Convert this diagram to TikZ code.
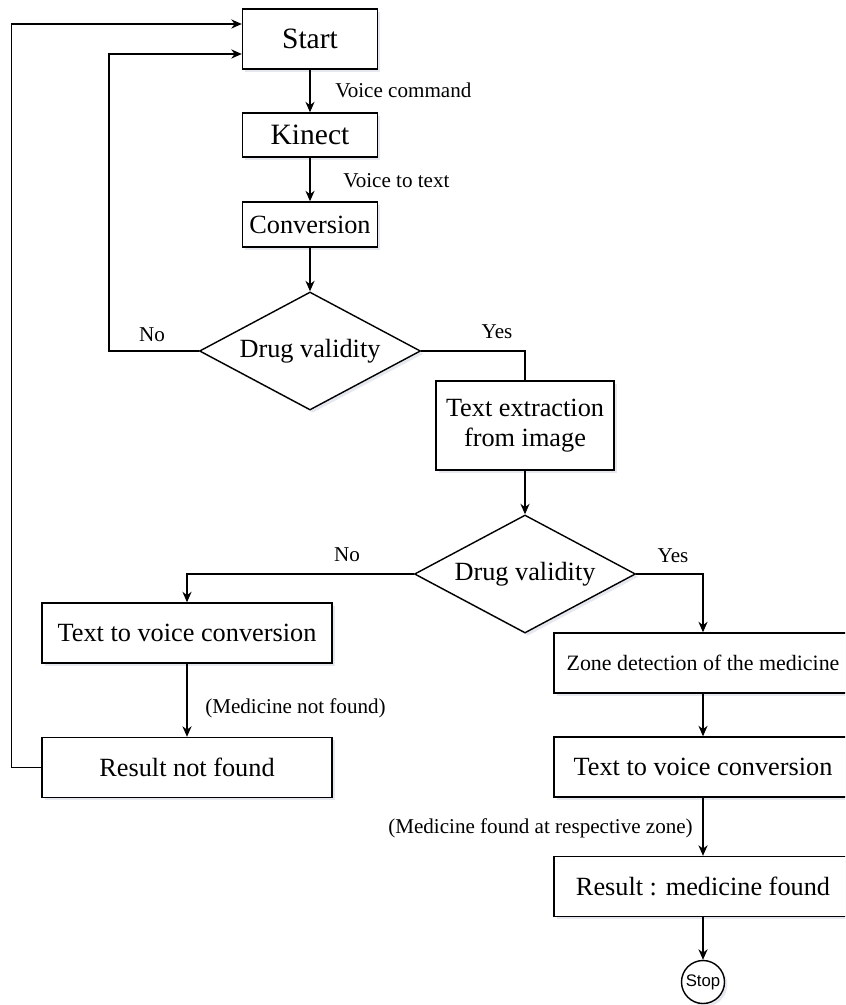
\documentclass[tikz,border=0pt]{standalone}
\usepackage{fontspec}
\setmainfont{Liberation Serif}
\newfontfamily\stopfont{Liberation Sans}
\usepackage{tikz}
\usetikzlibrary{shapes.geometric, arrows.meta, shadows}
\definecolor{shadowgray}{HTML}{CDD2DF}

\begin{document}
\begin{tikzpicture}[
    block/.style={rectangle, draw, fill=white, line width=1pt, minimum width=3.375cm, inner sep=2pt, align=center, font=\fontsize{18.7}{21.3}\selectfont, drop shadow={shadow xshift=2pt, shadow yshift=-2pt, fill=shadowgray}},
    wideblock/.style={block, minimum width=7.25cm, minimum height=1.5cm},
    decision/.style={diamond, draw, fill=white, line width=1pt, aspect=1.9, inner sep=0pt, minimum width=5.525cm, minimum height=2.95cm, font=\fontsize{18.7}{21.3}\selectfont, drop shadow={shadow xshift=2pt, shadow yshift=-2pt, fill=shadowgray}},
    terminal/.style={circle, draw, fill=white, line width=1pt, minimum size=1.075cm, inner sep=0pt, font=\stopfont\fontsize{11.9}{14}\selectfont, drop shadow={shadow xshift=2pt, shadow yshift=-2pt, fill=shadowgray}},
    note/.style={font=\fontsize{15}{18}\selectfont, inner sep=0pt},
    arrow/.style={-{Stealth[length=7.5pt, width=6.5pt]}, line width=1pt}
]

\clip (0,0) rectangle (21.125,-25.125);

\node[block, minimum height=1.5cm, font=\fontsize{21}{24}\selectfont] (start) at (7.75,-0.975) {Start};
\node[block, minimum height=1.1cm, font=\fontsize{21}{24}\selectfont] (kinect) at (7.75,-3.375) {Kinect};
\node[block, minimum height=1.125cm] (conv) at (7.75,-5.6125) {Conversion};

\node[decision] (valid1) at (7.75,-8.775) {Drug validity};
\node[block, minimum width=4.45cm, minimum height=2.225cm] (extract) at (13.125,-10.6375) {Text extraction\\from image};
\node[decision] (valid2) at (13.125,-14.35) {Drug validity};

\node[wideblock] (speakno) at (4.675,-15.825) {Text to voice conversion};
\node[wideblock] (notfound) at (4.675,-19.1875) {Result not found};

\node[wideblock, minimum width=7.45cm, font=\fontsize{15.6}{18}\selectfont] (zone) at (17.575,-16.575) {Zone detection of the medicine};
\node[wideblock, minimum width=7.45cm] (speakyes) at (17.575,-19.175) {Text to voice conversion};
\node[wideblock, minimum width=7.45cm] (found) at (17.575,-22.1625) {Result : medicine found};
\node[terminal] (stop) at (17.575,-24.55) {Stop};

\node[note, anchor=west] (cmd) at (8.375,-2.25) {Voice command};
\node[note, anchor=west] (v2t) at (8.575,-4.525) {Voice to text};
\node[note] (no1) at (3.8,-8.375) {No};
\node[note] (yes1) at (12.425,-8.3) {Yes};
\node[note] (no2) at (8.675,-13.875) {No};
\node[note] (yes2) at (16.825,-13.9) {Yes};
\node[note, anchor=west] (nfnote) at (5.125,-17.7) {(Medicine not found)};
\node[note, anchor=east] (fnote) at (17.325,-20.7) {(Medicine found at respective zone)};

\draw[arrow] (start) -- (kinect);
\draw[arrow] (kinect) -- (conv);
\draw[arrow] (conv) -- (valid1);
\draw[arrow] (valid1.west) -- ++(-2.25,0) |- ([yshift=-0.375cm]start.west);
\draw[line width=1pt] (valid1.east) -| (extract.north);
\draw[arrow] (extract) -- (valid2);
\draw[arrow] (valid2.west) -| (speakno.north);
\draw[arrow] (valid2.east) -| (zone.north);
\draw[arrow] (speakno) -- (notfound);
\draw[arrow] (notfound.west) -- ++(-0.75,0) |- ([yshift=0.375cm]start.west);
\draw[arrow] (zone) -- (speakyes);
\draw[arrow] (speakyes) -- (found);
\draw[arrow] (found) -- (stop);

\end{tikzpicture}
\end{document}
